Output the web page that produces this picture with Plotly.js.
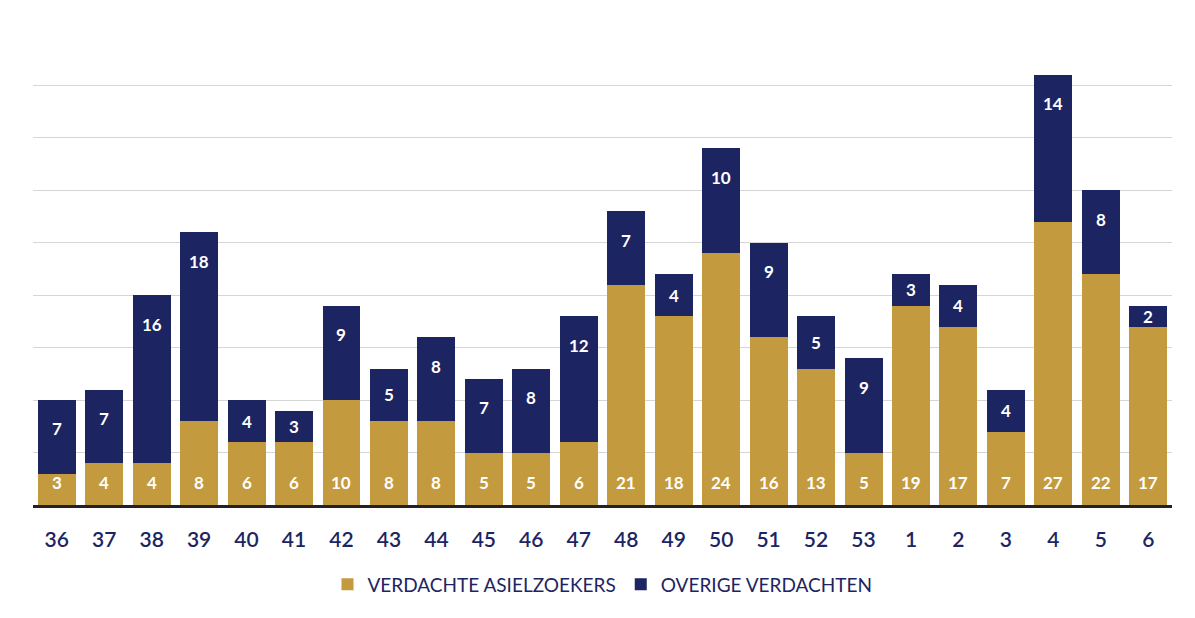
<!DOCTYPE html>
<html><head><meta charset="utf-8">
<script src="https://cdn.plot.ly/plotly-3.0.1.min.js"></script>
<style>html,body{margin:0;padding:0;background:#fff}#chart{width:1195px;height:618px}</style>
</head><body><div id="chart"></div>
<script>
const weeks = ['36','37','38','39','40','41','42','43','44','45','46','47','48','49','50','51','52','53','1','2','3','4','5','6'];
const asielzoekers = [3,4,4,8,6,6,10,8,8,5,5,6,21,18,24,16,13,5,19,17,7,27,22,17];
const overige = [7,7,16,18,4,3,9,5,8,7,8,12,7,4,10,9,5,9,3,4,4,14,8,2];
const seriesNames = ['VERDACHTE ASIELZOEKERS','OVERIGE VERDACHTEN'];
const gold = '#c49a3e', navy = '#1c2562';
const fontFam = 'Lato, "Open Sans", sans-serif';
const pos = weeks.map((w,i)=>i);

const traces = [
  {type:'bar', name:seriesNames[0], x:pos, y:asielzoekers, marker:{color:gold}, hoverinfo:'none'},
  {type:'bar', name:seriesNames[1], x:pos, y:overige, marker:{color:navy}, hoverinfo:'none'}
];
const ann = [];
pos.forEach((p,i)=>{
  ann.push({x:p, y:0, yshift:23, text:String(asielzoekers[i]), showarrow:false,
    font:{family:fontFam, size:17, color:'#ffffff', weight:700}});
  ann.push({x:p, y:asielzoekers[i]+overige[i]-Math.min(2.75, overige[i]/2), text:String(overige[i]), showarrow:false,
    font:{family:fontFam, size:17, color:'#ffffff', weight:700}});
});
const layout = {
  width:1195, height:618,
  margin:{l:33, r:23, t:33, b:113},
  paper_bgcolor:'#ffffff', plot_bgcolor:'rgba(0,0,0,0)',
  barmode:'stack', bargap:0.2,
  showlegend:true,
  legend:{orientation:'h', x:0.5, xanchor:'center', y:-0.168, yanchor:'middle',
    font:{family:fontFam, size:19, color:navy}, traceorder:'normal'},
  xaxis:{type:'linear', range:[-0.5, weeks.length-0.5], tickmode:'array', tickvals:pos, ticktext:weeks,
    showline:true, linecolor:'#222222', linewidth:3, ticks:'',
    tickfont:{family:fontFam, size:21, color:navy, weight:600}, ticklabelstandoff:14,
    showgrid:false, zeroline:false},
  yaxis:{range:[0,45], dtick:5, showticklabels:false, showgrid:true, gridcolor:'#d6d6d6', gridwidth:1.2,
    zeroline:false, showline:false, ticks:''},
  annotations:ann
};
Plotly.newPlot('chart', traces, layout, {displayModeBar:false, staticPlot:true});
</script></body></html>
